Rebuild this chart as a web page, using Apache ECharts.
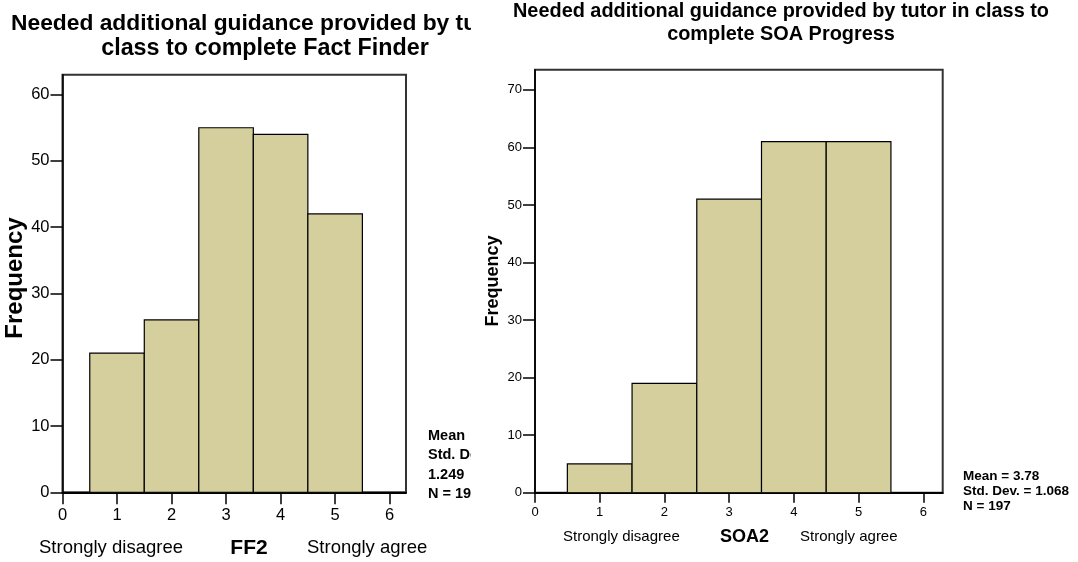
<!DOCTYPE html>
<html>
<head>
<meta charset="utf-8">
<script src="https://cdn.jsdelivr.net/npm/echarts@6/dist/echarts.min.js"></script>
<style>
  html, body { margin: 0; padding: 0; background: #fff; }
  #wrap { position: relative; width: 1078px; height: 562px; overflow: hidden; }
  #leftClip { position: absolute; left: 0; top: 0; width: 471px; height: 562px; overflow: hidden; }
  #left { width: 620px; height: 562px; }
  #right { position: absolute; left: 472px; top: 0; width: 606px; height: 562px; }
</style>
</head>
<body>
<div id="wrap">
  <div id="leftClip"><div id="left"></div></div>
  <div id="right"></div>
</div>
<script>
  const font = 'Liberation Sans, Arial, sans-serif'
  const barColor = '#d4cf9c'

  // data
  const categories = [1, 2, 3, 4, 5]
  const xTicks = [0, 1, 2, 3, 4, 5, 6]
  const ff2Counts = [21, 26, 55, 54, 42]
  const soa2Counts = [5, 19, 51, 61, 61]
  const ff2YTicks = [0, 10, 20, 30, 40, 50, 60]
  const soa2YTicks = [0, 10, 20, 30, 40, 50, 60, 70]
  const ff2Stats = ['Mean', 'Std. Dev. =', '1.249', 'N = 198']
  const soa2Stats = ['Mean = 3.78', 'Std. Dev. = 1.068', 'N = 197']

  function txt(x, y, text, size, bold, align, rotate) {
    return {
      type: 'text',
      x: x,
      y: y,
      rotation: rotate ? Math.PI / 2 : 0,
      style: {
        text: text,
        x: 0,
        y: 0,
        fill: '#000',
        font: (bold ? 'bold ' : '') + size + 'px ' + font,
        textAlign: align || 'left',
        textVerticalAlign: 'middle'
      }
    }
  }

  function histOption(cfg) {
    return {
      animation: false,
      grid: {
        left: cfg.grid[0],
        top: cfg.grid[1],
        width: cfg.grid[2],
        height: cfg.grid[3],
        show: true,
        borderColor: '#333',
        borderWidth: 2,
        backgroundColor: 'transparent',
        outerBoundsMode: 'none'
      },
      xAxis: {
        type: 'value',
        min: 0,
        max: 6.3,
        axisLine: { show: true, onZero: false, lineStyle: { color: '#000', width: 2 } },
        axisTick: { show: true, length: cfg.xTickLen, customValues: xTicks, lineStyle: { color: '#000', width: 1.5 } },
        axisLabel: { customValues: xTicks, color: '#000', fontSize: cfg.tickFont, fontFamily: font, margin: cfg.xTickLen + 3 },
        splitLine: { show: false }
      },
      yAxis: {
        type: 'value',
        min: 0,
        max: cfg.yMax,
        axisLine: { show: true, lineStyle: { color: '#000', width: 1.5 } },
        axisTick: { show: true, length: 12, customValues: cfg.yTicks, lineStyle: { color: '#000', width: 1.5 } },
        axisLabel: { customValues: cfg.yTicks, color: '#000', fontSize: cfg.tickFont, fontFamily: font, margin: 13 },
        splitLine: { show: false }
      },
      series: [{
        type: 'custom',
        clip: true,
        data: categories.map((c, i) => [c, cfg.counts[i]]),
        renderItem(params, api) {
          const x = api.value(0)
          const topLeft = api.coord([x - 0.5, api.value(1)])
          const bottomRight = api.coord([x + 0.5, 0])
          return {
            type: 'rect',
            shape: {
              x: topLeft[0],
              y: topLeft[1],
              width: bottomRight[0] - topLeft[0],
              height: bottomRight[1] - topLeft[1]
            },
            style: { fill: barColor, stroke: '#000', lineWidth: 1.2 }
          }
        }
      }],
      graphic: cfg.texts
    }
  }

  const leftChart = echarts.init(document.getElementById('left'))
  leftChart.setOption(histOption({
    grid: [62.5, 74.7, 343.5, 417.6],
    yMax: 63,
    yTicks: ff2YTicks,
    counts: ff2Counts,
    tickFont: 16.5,
    xTickLen: 12,
    texts: [
      txt(11, 23.5, 'Needed additional guidance provided by tutor in', 22.8, true),
      txt(265, 48.5, 'class to complete Fact Finder', 23.3, true, 'center'),
      txt(15, 278, 'Frequency', 24, true, 'center', true),
      txt(39, 548, 'Strongly disagree', 18.5, false),
      txt(249, 548, 'FF2', 21, true, 'center'),
      txt(307, 548, 'Strongly agree', 18.5, false)
    ].concat(ff2Stats.map((s, i) => txt(428, 436 + i * 19.3, s, 14.5, true)))
  }))

  const rightChart = echarts.init(document.getElementById('right'))
  rightChart.setOption(histOption({
    grid: [63, 69.7, 407.7, 423],
    yMax: 73.5,
    yTicks: soa2YTicks,
    counts: soa2Counts,
    tickFont: 13,
    xTickLen: 10,
    texts: [
      txt(309, 12, 'Needed additional guidance provided by tutor in class to', 19.9, true, 'center'),
      txt(309, 35, 'complete SOA Progress', 19.9, true, 'center'),
      txt(21, 281, 'Frequency', 18, true, 'center', true),
      txt(91, 537, 'Strongly disagree', 15, false),
      txt(272.5, 537, 'SOA2', 18, true, 'center'),
      txt(328, 537, 'Strongly agree', 15, false)
    ].concat(soa2Stats.map((s, i) => txt(491, 476 + i * 15, s, 13.5, true)))
  }))
</script>
</body>
</html>
